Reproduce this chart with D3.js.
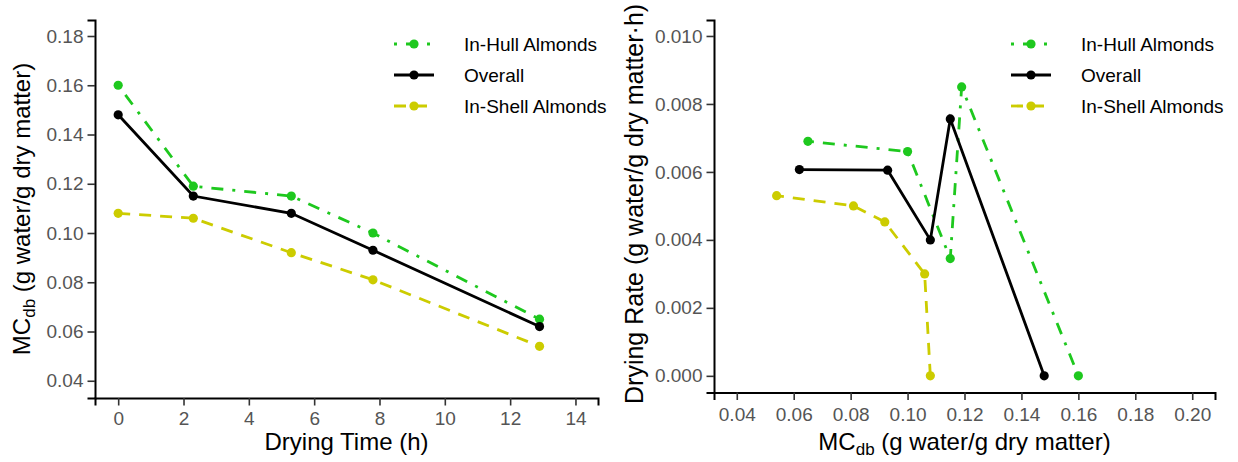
<!DOCTYPE html>
<html>
  <head>
    <script src="https://d3js.org/d3.v7.min.js"></script>
    <style>
      body { margin: 0; background: #fff; }
      text { font-family: "Liberation Sans", Arial, sans-serif; }
    </style>
  </head>
  <body>
    <script>

// series names (legend order) and their styling
const seriesNames = ["In-Hull Almonds", "Overall", "In-Shell Almonds"];
const seriesColors = ["#1ec81e", "#000000", "#cccc00"];
const seriesDash = ["3,9,12,9", null, "12,9"];

// drying time (h)
const dryingTime = [0, 2.3, 5.3, 7.8, 12.9];

// moisture content, dry basis (g water / g dry matter)
const mcInHull  = [0.160, 0.119, 0.115, 0.100, 0.065];
const mcOverall = [0.148, 0.115, 0.108, 0.093, 0.062];
const mcInShell = [0.108, 0.106, 0.092, 0.081, 0.054];

// drying rate (g water / g dry matter.h), one per time point
const rateInHull  = [0.0000, 0.0085, 0.00345, 0.0066, 0.0069];
const rateOverall = [0.0000, 0.00756, 0.0040, 0.00605, 0.00607];
const rateInShell = [0.0000, 0.0030, 0.00453, 0.0050, 0.0053];

// tick labels
const timeTicks = [0, 2, 4, 6, 8, 10, 12, 14];
const mcTicksLeft = [0.04, 0.06, 0.08, 0.10, 0.12, 0.14, 0.16, 0.18];
const mcTicksRight = [0.04, 0.06, 0.08, 0.10, 0.12, 0.14, 0.16, 0.18, 0.20];
const rateTicks = [0.000, 0.002, 0.004, 0.006, 0.008, 0.010];

const mcSeries = [mcInHull, mcOverall, mcInShell];
const rateSeries = [rateInHull, rateOverall, rateInShell];

const width = 1238, height = 462;

const svg = d3.select("body").append("svg")
    .attr("width", width)
    .attr("height", height);

function drawPanel(p) {
  const x = d3.scaleLinear().domain(p.xDomain).range([p.left, p.right]);
  const y = d3.scaleLinear().domain(p.yDomain).range([p.bottom, p.top]);
  const g = svg.append("g");

  // axes
  const xAxis = g.append("g")
      .attr("transform", `translate(0,${p.bottom})`)
      .call(d3.axisBottom(x).tickValues(p.xTicks).tickFormat(p.xFormat).tickSize(7.5).tickPadding(p.xPad));
  const yAxis = g.append("g")
      .attr("transform", `translate(${p.left},0)`)
      .call(d3.axisLeft(y).tickValues(p.yTicks).tickFormat(p.yFormat).tickSize(7.5).tickPadding(4));
  [xAxis, yAxis].forEach(a => {
    a.select(".domain").attr("stroke", "#000").attr("stroke-width", 2);
    a.selectAll(".tick line").attr("stroke", "#333").attr("stroke-width", 1.6);
    a.selectAll(".tick text").attr("fill", "#555").attr("font-size", 19)
      .attr("font-family", "Liberation Sans, Arial, sans-serif");
  });

  // lines + points, one group per series
  const line = d3.line().x(d => x(d[0])).y(d => y(d[1]));
  p.series.forEach((pts, i) => {
    g.append("path")
        .datum(pts)
        .attr("fill", "none")
        .attr("stroke", seriesColors[i])
        .attr("stroke-width", 2.8)
        .attr("stroke-dasharray", seriesDash[i])
        .attr("d", line);
  });
  p.series.forEach((pts, i) => {
    g.selectAll(null)
        .data(pts)
        .enter().append("circle")
        .attr("cx", d => x(d[0]))
        .attr("cy", d => y(d[1]))
        .attr("r", 4.6)
        .attr("fill", seriesColors[i]);
  });

  // legend
  const lg = g.append("g");
  seriesNames.forEach((name, i) => {
    const ly = 44 + i * 31;
    lg.append("line")
        .attr("x1", p.right - 204).attr("x2", p.right - 164)
        .attr("y1", ly).attr("y2", ly)
        .attr("stroke", seriesColors[i])
        .attr("stroke-width", 2.8)
        .attr("stroke-dasharray", seriesDash[i]);
    lg.append("circle")
        .attr("cx", p.right - 184).attr("cy", ly).attr("r", 4.6)
        .attr("fill", seriesColors[i]);
    lg.append("text")
        .attr("x", p.right - 134).attr("y", ly + 6.5)
        .attr("font-size", 19)
        .attr("fill", "#000")
        .text(name);
  });

  // x title
  const xt = g.append("text")
      .attr("x", (p.left + p.right) / 2)
      .attr("y", 450)
      .attr("text-anchor", "middle")
      .attr("font-size", 24);
  p.xTitle(xt);

  // y title
  const yt = g.append("text")
      .attr("transform", `translate(${p.yTitleX},${p.yTitleY}) rotate(-90)`)
      .attr("text-anchor", p.yTitleAnchor)
      .attr("font-size", p.yTitleSize);
  p.yTitle(yt);
}

function mcTitle(t) {
  t.append("tspan").text("MC");
  t.append("tspan").attr("font-size", 17).attr("dy", 5).text("db");
  t.append("tspan").attr("dy", -5).text(" (g water/g dry matter)");
}

const pairs = (xs, ys) => xs.map((v, i) => [v, ys[i]]);

drawPanel({
  left: 95, right: 598, top: 20, bottom: 398,
  xDomain: [-0.71, 14.69], yDomain: [0.033, 0.1865],
  xTicks: timeTicks, yTicks: mcTicksLeft, xPad: 6,
  xFormat: d3.format("d"), yFormat: d3.format(".2f"),
  series: mcSeries.map(mc => pairs(dryingTime, mc)),
  xTitle: t => t.text("Drying Time (h)"),
  yTitle: mcTitle,
  yTitleX: 30, yTitleY: 209, yTitleAnchor: "middle", yTitleSize: 24
});

drawPanel({
  left: 714, right: 1215, top: 20, bottom: 392.5,
  xDomain: [0.032, 0.208], yDomain: [-0.00049, 0.01047],
  xTicks: mcTicksRight, yTicks: rateTicks, xPad: 7.5,
  xFormat: d3.format(".2f"), yFormat: d3.format(".3f"),
  series: mcSeries.map((mc, i) => pairs(mc, rateSeries[i])),
  xTitle: mcTitle,
  yTitle: t => t.text("Drying Rate (g water/g dry matter\u00b7h)"),
  yTitleX: 643, yTitleY: 404, yTitleAnchor: "start", yTitleSize: 25
});

    </script>
  </body>
</html>
